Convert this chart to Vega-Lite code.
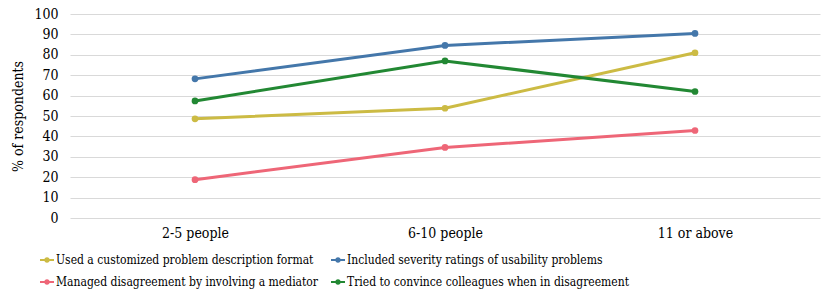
{
  "$schema": "https://vega.github.io/schema/vega-lite/v6.json",
  "width": 750,
  "height": 204,
  "autosize": {"type": "none"},
  "padding": {"left": 70, "top": 14, "right": 10, "bottom": 82},
  "background": "white",
  "config": {
    "font": "DejaVu Serif Condensed",
    "view": {"stroke": null}
  },
  "data": {
    "values": [
      {"size": "2-5 people", "series": "Used a customized problem description format", "pct": 48.6},
      {"size": "6-10 people", "series": "Used a customized problem description format", "pct": 53.8},
      {"size": "11 or above", "series": "Used a customized problem description format", "pct": 81.0},
      {"size": "2-5 people", "series": "Included severity ratings of usability problems", "pct": 68.2},
      {"size": "6-10 people", "series": "Included severity ratings of usability problems", "pct": 84.6},
      {"size": "11 or above", "series": "Included severity ratings of usability problems", "pct": 90.5},
      {"size": "2-5 people", "series": "Managed disagreement by involving a mediator", "pct": 18.8},
      {"size": "6-10 people", "series": "Managed disagreement by involving a mediator", "pct": 34.6},
      {"size": "11 or above", "series": "Managed disagreement by involving a mediator", "pct": 42.9},
      {"size": "2-5 people", "series": "Tried to convince colleagues when in disagreement", "pct": 57.4},
      {"size": "6-10 people", "series": "Tried to convince colleagues when in disagreement", "pct": 77.0},
      {"size": "11 or above", "series": "Tried to convince colleagues when in disagreement", "pct": 62.0}
    ]
  },
  "encoding": {
    "x": {
      "field": "size", "type": "nominal", "sort": ["2-5 people", "6-10 people", "11 or above"],
      "scale": {"type": "point", "padding": 0.5},
      "axis": {"title": null, "labelAngle": 0, "domain": false, "ticks": false, "grid": false, "labelFontSize": 14, "labelColor": "#000", "labelPadding": 8}
    },
    "y": {
      "field": "pct", "type": "quantitative",
      "scale": {"domain": [0, 100]},
      "axis": {"title": "% of respondents", "values": [0,10,20,30,40,50,60,70,80,90,100], "domain": false, "ticks": false, "gridColor": "#d9d9d9", "gridWidth": 1, "labelFontSize": 14, "labelColor": "#000", "labelPadding": 12, "titleFontSize": 14, "titleFontWeight": "normal", "titleColor": "#000", "titlePadding": 8}
    },
    "color": {
      "field": "series", "type": "nominal",
      "sort": ["Used a customized problem description format", "Managed disagreement by involving a mediator", "Included severity ratings of usability problems", "Tried to convince colleagues when in disagreement"],
      "scale": {"range": ["#CCBB44", "#EE6677", "#4477AA", "#228833"]},
      "legend": {
        "title": null, "orient": "none", "legendX": -30, "legendY": 239, "columns": 2, "columnPadding": 12, "rowPadding": 9,
        "labelFontSize": 12, "labelColor": "#000", "labelOffset": 2, "labelLimit": 400,
        "symbolType": "M-1,-0.14 L1,-0.14 L1,0.14 L-1,0.14 Z M0.4,0 A0.4,0.4 0 1,1 -0.4,0 A0.4,0.4 0 1,1 0.4,0 Z",
        "symbolSize": 196, "symbolStrokeWidth": 0,
        "encode": {"symbols": {"update": {"fill": {"scale": "color", "field": "value"}, "fillOpacity": {"value": 1}, "strokeWidth": {"value": 0}}}}
      }
    }
  },
  "layer": [
    {"mark": {"type": "line", "strokeWidth": 3}},
    {"mark": {"type": "point", "filled": true, "size": 45, "opacity": 1}}
  ]
}
